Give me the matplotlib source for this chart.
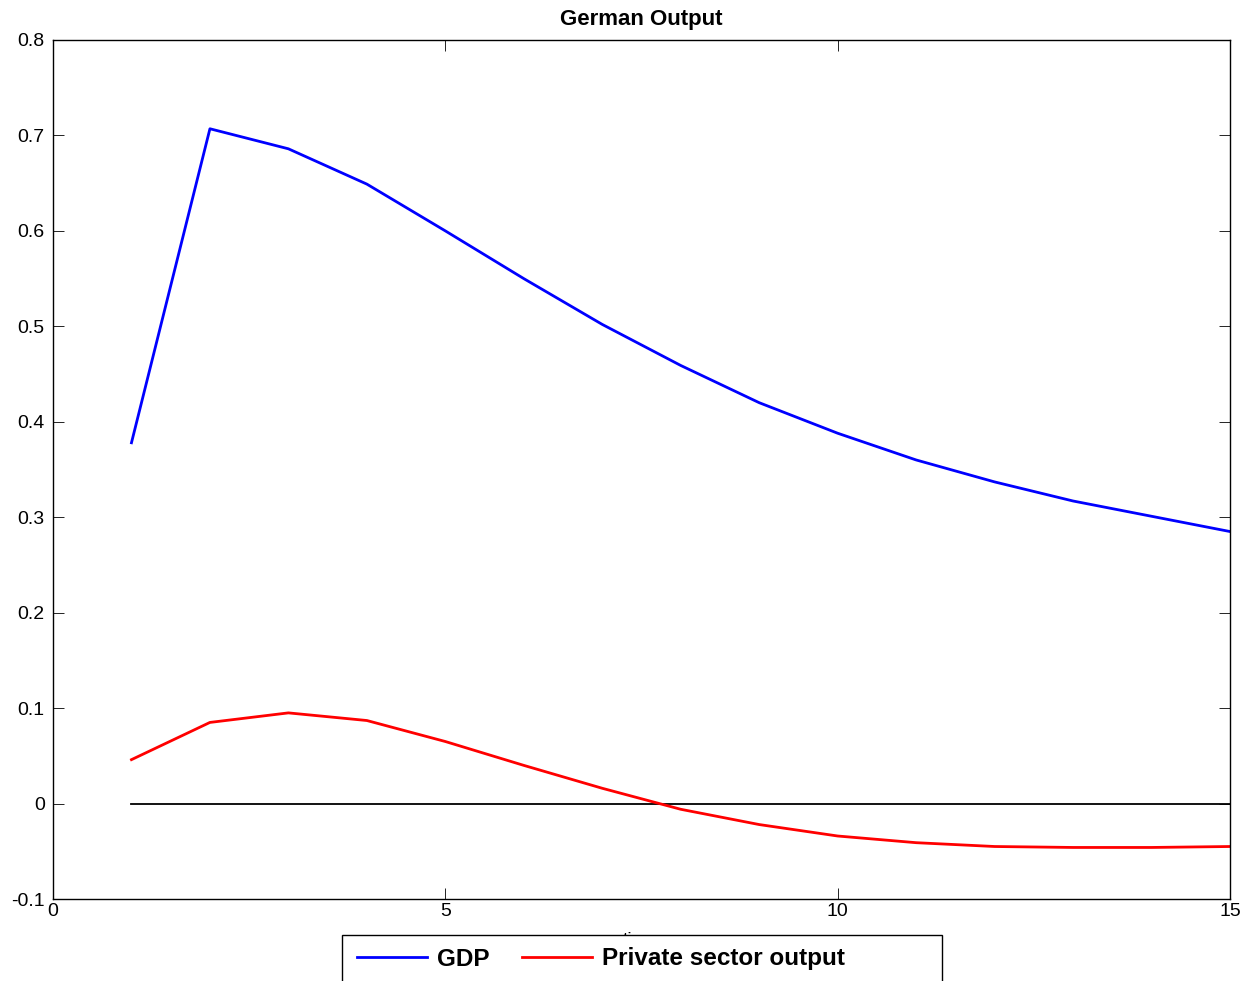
import numpy as np
import matplotlib
matplotlib.use("Agg")
import matplotlib.pyplot as plt
from matplotlib.patches import Rectangle

plt.rcParams['font.family'] = ['Liberation Sans', 'DejaVu Sans']

# periods
periods = list(range(1, 16))
#       GDP response
gdp = [0.378, 0.707, 0.686, 0.649, 0.600, 0.550, 0.502, 0.459,
       0.420, 0.388, 0.360, 0.337, 0.317, 0.301, 0.285]
#       private sector output response
private = [0.046, 0.085, 0.095, 0.087, 0.065, 0.040, 0.016, -0.006,
           -0.022, -0.034, -0.041, -0.045, -0.046, -0.046, -0.045]
zero_line = [0.0] * len(periods)

x_ticks = [0, 5, 10, 15]
y_ticks = [-0.1, 0, 0.1, 0.2, 0.3, 0.4, 0.5, 0.6, 0.7, 0.8]
y_tick_labels = ['-0.1', '0', '0.1', '0.2', '0.3', '0.4', '0.5', '0.6', '0.7', '0.8']

W, H = 1245, 981
fig = plt.figure(figsize=(W / 100, H / 100), dpi=100)
ax = fig.add_axes([53 / W, 1 - 899 / H, (1230 - 53) / W, (899 - 40) / H])

ax.plot(periods, zero_line, color='black', lw=1.3)
l1, = ax.plot(periods, gdp, color='#0000ff', lw=2.0, label='GDP')
l2, = ax.plot(periods, private, color='#ff0000', lw=2.0, label='Private sector output')

ax.set_xlim(0, 15)
ax.set_ylim(-0.1, 0.8)
ax.set_xticks(x_ticks)
ax.set_xticklabels([str(t) for t in x_ticks])
ax.set_yticks(y_ticks)
ax.set_yticklabels(y_tick_labels)
ax.tick_params(direction='in', length=8, width=0.6, labelsize=14,
               top=True, right=True, color='black')
ax.tick_params(axis='y', pad=6)
ax.tick_params(axis='x', pad=3)
for s in ax.spines.values():
    s.set_linewidth(1.0)

ax.set_title('German Output', fontsize=16, fontweight='bold', pad=11)
# x label sits behind the legend box, as in the original
ax.set_xlabel('time', fontsize=14, labelpad=8.5)

# legend box (cut at bottom edge like the original)
box = Rectangle((342 / W, -0.05), 600 / W, 1 - 935 / H + 0.05,
                transform=fig.transFigure, facecolor='white',
                edgecolor='black', lw=1.0, zorder=3)
fig.patches.append(box)

fig.legend(handles=[l1, l2], loc='center left', bbox_to_anchor=(357 / W, 1 - 959 / H),
           ncol=2, frameon=False, borderpad=0, borderaxespad=0,
           handlelength=2.9, handletextpad=0.4, columnspacing=1.32,
           prop={'size': 17.5, 'weight': 'bold'})

fig.savefig('out.png', dpi=100)
